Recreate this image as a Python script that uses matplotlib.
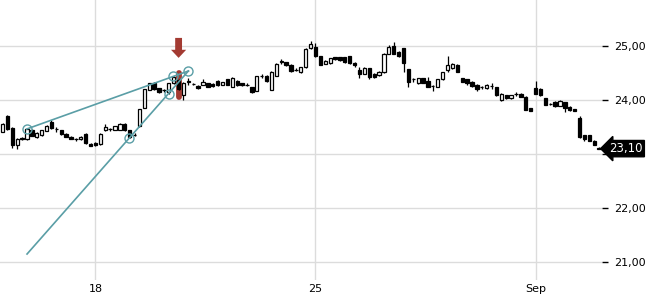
import numpy as np
import matplotlib
matplotlib.use("Agg")
import matplotlib.pyplot as plt

# hourly candles, 9 per trading day
opens = [23.41, 23.71, 23.49, 23.17, 23.30, 23.28, 23.44, 23.32, 23.35, 23.43,
         23.60, 23.47, 23.44, 23.37, 23.32, 23.28, 23.27, 23.37, 23.19, 23.20,
         23.18, 23.44, 23.47, 23.45, 23.45, 23.55, 23.44, 23.36, 23.51, 23.86,
         24.19, 24.32, 24.22, 24.18, 24.14, 24.31, 24.37, 24.09, 24.34, 24.30,
         24.26, 24.28, 24.31, 24.30, 24.36, 24.28, 24.38, 24.25, 24.36, 24.31,
         24.27, 24.24, 24.17, 24.45, 24.45, 24.19, 24.45, 24.71, 24.70, 24.65,
         24.55, 24.51, 24.61, 24.96, 24.98, 24.81, 24.67, 24.68, 24.79, 24.79,
         24.79, 24.81, 24.69, 24.56, 24.49, 24.59, 24.49, 24.46, 24.51, 24.86,
         25.00, 24.89, 24.96, 24.57, 24.38, 24.31, 24.40, 24.36, 24.26, 24.25,
         24.38, 24.56, 24.59, 24.65, 24.40, 24.38, 24.34, 24.28, 24.24, 24.22,
         24.26, 24.24, 24.00, 24.09, 24.03, 24.12, 24.12, 24.06, 23.85, 24.22,
         24.21, 24.03, 23.92, 23.97, 23.89, 23.96, 23.87, 23.83, 23.66, 23.35,
         23.35, 23.25, 23.12]
highs = [23.57, 23.73, 23.50, 23.30, 23.32, 23.47, 23.46, 23.40, 23.45, 23.53,
         23.63, 23.50, 23.45, 23.38, 23.33, 23.30, 23.33, 23.38, 23.20, 23.22,
         23.38, 23.56, 23.49, 23.52, 23.57, 23.58, 23.45, 23.39, 23.84, 24.21,
         24.32, 24.34, 24.23, 24.21, 24.32, 24.44, 24.39, 24.33, 24.40, 24.32,
         24.27, 24.39, 24.32, 24.31, 24.37, 24.34, 24.39, 24.42, 24.37, 24.32,
         24.32, 24.25, 24.45, 24.48, 24.46, 24.53, 24.68, 24.76, 24.71, 24.66,
         24.60, 24.62, 24.96, 25.09, 25.05, 24.82, 24.74, 24.78, 24.80, 24.80,
         24.80, 24.82, 24.70, 24.62, 24.61, 24.60, 24.50, 24.53, 24.87, 25.02,
         25.07, 24.90, 24.97, 24.58, 24.40, 24.41, 24.41, 24.43, 24.28, 24.39,
         24.52, 24.81, 24.68, 24.66, 24.41, 24.39, 24.35, 24.29, 24.26, 24.29,
         24.32, 24.25, 24.13, 24.10, 24.10, 24.15, 24.13, 24.07, 23.86, 24.36,
         24.22, 24.04, 23.95, 23.98, 24.00, 23.97, 23.88, 23.84, 23.70, 23.36,
         23.36, 23.26, 23.13]
lows = [23.40, 23.44, 23.12, 23.09, 23.26, 23.26, 23.33, 23.30, 23.34, 23.42,
        23.47, 23.41, 23.36, 23.31, 23.27, 23.24, 23.26, 23.19, 23.14, 23.14,
        23.17, 23.43, 23.43, 23.44, 23.44, 23.43, 23.30, 23.33, 23.50, 23.85,
        24.18, 24.19, 24.13, 24.15, 24.11, 24.30, 24.19, 24.00, 24.27, 24.28,
        24.21, 24.27, 24.24, 24.25, 24.26, 24.27, 24.27, 24.24, 24.26, 24.26,
        24.26, 24.13, 24.16, 24.40, 24.34, 24.18, 24.44, 24.66, 24.63, 24.52,
        24.54, 24.50, 24.60, 24.95, 24.80, 24.64, 24.66, 24.67, 24.75, 24.73,
        24.69, 24.67, 24.62, 24.40, 24.48, 24.38, 24.41, 24.45, 24.50, 24.85,
        24.85, 24.80, 24.52, 24.25, 24.34, 24.30, 24.31, 24.24, 24.17, 24.24,
        24.37, 24.51, 24.58, 24.51, 24.33, 24.28, 24.25, 24.16, 24.21, 24.21,
        24.21, 24.08, 23.99, 24.02, 24.02, 24.07, 24.05, 23.81, 23.79, 24.11,
        24.08, 23.90, 23.91, 23.87, 23.88, 23.78, 23.80, 23.79, 23.30, 23.25,
        23.24, 23.16, 23.10]
closes = [23.55, 23.46, 23.16, 23.28, 23.27, 23.46, 23.34, 23.38, 23.44, 23.52,
          23.48, 23.47, 23.37, 23.32, 23.28, 23.28, 23.32, 23.20, 23.15, 23.16,
          23.37, 23.50, 23.47, 23.51, 23.55, 23.44, 23.32, 23.36, 23.83, 24.20,
          24.31, 24.20, 24.14, 24.18, 24.31, 24.43, 24.20, 24.32, 24.36, 24.30,
          24.22, 24.34, 24.25, 24.26, 24.27, 24.33, 24.28, 24.41, 24.27, 24.27,
          24.27, 24.14, 24.44, 24.45, 24.35, 24.52, 24.67, 24.72, 24.64, 24.53,
          24.55, 24.61, 24.95, 25.04, 24.81, 24.65, 24.73, 24.77, 24.76, 24.74,
          24.70, 24.68, 24.65, 24.49, 24.60, 24.43, 24.42, 24.52, 24.86, 24.99,
          24.86, 24.81, 24.68, 24.34, 24.39, 24.40, 24.32, 24.25, 24.26, 24.38,
          24.51, 24.65, 24.67, 24.52, 24.34, 24.32, 24.26, 24.20, 24.24, 24.28,
          24.26, 24.09, 24.12, 24.03, 24.09, 24.12, 24.06, 23.82, 23.80, 24.12,
          24.09, 23.91, 23.92, 23.88, 23.99, 23.86, 23.81, 23.80, 23.31, 23.28,
          23.25, 23.17, 23.10]

day_ticks = [19, 64, 109]
day_labels = ["18", "25", "Sep"]
price_ticks = [21, 22, 23, 24, 25]
price_labels = ["21,00", "22,00", "", "24,00", "25,00"]  # 23,00 liegt unter dem Kurskasten
last_price = 23.10

# Trendlinien (Index, Kurs)
line1_x = [4.93, 38.0]
line1_y = [23.463, 24.537]
line2_x = [5.0, 38.0]
line2_y = [21.148, 24.537]
circle_x = [4.93, 25.85, 34.03, 34.85, 38.0]
circle_y = [23.463, 23.296, 24.12, 24.44, 24.537]

signal_idx = 36

teal = "#5a9ea6"
red = "#a33a32"

fig = plt.figure(figsize=(6.5, 3.0), dpi=100)
ax = fig.add_axes([0, 20 / 300, 602 / 650, 280 / 300])

o = np.array(opens)
h = np.array(highs)
l = np.array(lows)
c = np.array(closes)
x = np.arange(len(o))
up = c >= o

for v in price_ticks:
    ax.axhline(v, color="#dcdcdc", lw=1, zorder=0)
for v in day_ticks:
    ax.axvline(v, color="#dcdcdc", lw=1, zorder=0)

# rote Markierung
ax.plot([signal_idx, signal_idx], [24.05, 24.50], color=red, lw=4.2,
        solid_capstyle="round", zorder=1)
ax.arrow(signal_idx, 25.15, 0, -0.37, width=1.4, head_width=3.1, head_length=0.15,
         length_includes_head=True, color=red, lw=0, zorder=5)

ax.vlines(x, l, h, color="black", lw=0.9, zorder=2)
body_lo = np.minimum(o, c)
body_h = np.abs(c - o)
ax.bar(x[up], body_h[up], bottom=body_lo[up], width=0.68, color="white",
       edgecolor="black", linewidth=0.9, zorder=3)
ax.bar(x[~up], body_h[~up], bottom=body_lo[~up], width=0.68, color="black",
       edgecolor="black", linewidth=0.9, zorder=3)

ax.plot(line1_x, line1_y, color=teal, lw=1.2, zorder=4)
ax.plot(line2_x, line2_y, color=teal, lw=1.2, zorder=4)
ax.plot(circle_x, circle_y, ls="none", marker="o", ms=6.5, mfc="none",
        mec=teal, mew=1.0, zorder=4)

ax.set_xlim(-0.53, 122.6)
ax.set_ylim(20.667, 25.852)

ax.set_xticks(day_ticks)
ax.set_xticklabels(day_labels)
ax.set_yticks(price_ticks)
ax.set_yticklabels(price_labels)
ax.yaxis.tick_right()
ax.tick_params(axis="x", length=0, pad=3, labelsize=8)
ax.tick_params(axis="y", length=4, width=1, pad=4.5, labelsize=8, direction="out")
for s in ax.spines.values():
    s.set_visible(False)

ax.text(1.012, last_price, f"{last_price:.2f}".replace(".", ","),
        transform=ax.get_yaxis_transform(), color="white", fontsize=8.5,
        va="center", ha="left", zorder=6, clip_on=False,
        bbox=dict(boxstyle="larrow,pad=0.14", fc="black", ec="black"))

fig.savefig("out.png", dpi=100)
